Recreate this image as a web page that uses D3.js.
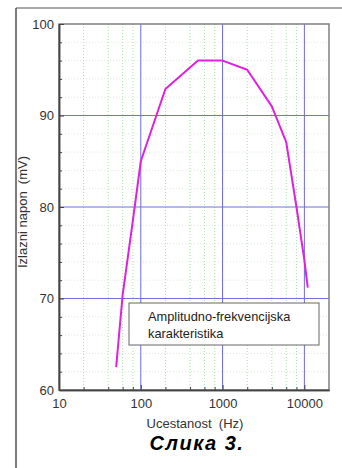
<!DOCTYPE html>
<html><head><meta charset="utf-8">
<script src="https://cdn.jsdelivr.net/npm/d3@7"></script>
<style>html,body{margin:0;padding:0;background:#fff;}svg{display:block;}</style>
</head><body>
<script>
const freq = [50, 60, 80, 100, 200, 500, 1000, 2000, 4000, 6000, 8000, 10000, 11000];
const volt = [62.5, 70.4, 78.5, 85, 92.9, 96, 96, 95, 91, 87.1, 80, 74.2, 71.2];
const xMajor = [10, 100, 1000, 10000];
const xMinor = [20,40,60,80,200,400,600,800,2000,4000,6000,8000];
const yMajor = [60, 70, 80, 90, 100];
const yMinor = [62,64,66,68,72,74,76,78,82,84,86,88,92,94,96,98];
const legendLines = ["Amplitudno-frekvencijska", "karakteristika"];
const xTitle = "Ucestanost  (Hz)";
const yTitle = "Izlazni napon  (mV)";
const caption = "Слика 3.";

const W = 342, H = 468;
const L = 59, R = 329, T = 24, B = 390;
const svg = d3.select("body").append("svg").attr("width", W).attr("height", H);
const x = d3.scaleLog().domain([10, 20000]).range([L, R]);
const y = d3.scaleLinear().domain([60, 100]).range([B, T]);
const font = "'Liberation Sans', Arial, sans-serif";

// outer frame
svg.append("line").attr("x1",16).attr("x2",16).attr("y1",8).attr("y2",H).attr("stroke","#222").attr("stroke-width",1.2);
svg.append("line").attr("x1",16).attr("x2",W).attr("y1",8).attr("y2",8).attr("stroke","#555").attr("stroke-width",1.2);

const g = svg.append("g");
g.selectAll(".hmin").data(yMinor).join("line")
  .attr("x1",L).attr("x2",R).attr("y1",d=>y(d)).attr("y2",d=>y(d))
  .attr("stroke","#dde8dd").attr("stroke-width",1).attr("stroke-dasharray","1,2");
g.selectAll(".vmin").data(xMinor).join("line")
  .attr("x1",d=>x(d)).attr("x2",d=>x(d)).attr("y1",T).attr("y2",B)
  .attr("stroke","#a8e0a8").attr("stroke-width",1).attr("stroke-dasharray","1,2");
g.selectAll(".hmaj").data(yMajor.slice(1,-1)).join("line")
  .attr("x1",L).attr("x2",R).attr("y1",d=>y(d)).attr("y2",d=>y(d))
  .attr("stroke","#7070e0").attr("stroke-width",1);
g.selectAll(".vmaj").data(xMajor.slice(1)).join("line")
  .attr("x1",d=>x(d)).attr("x2",d=>x(d)).attr("y1",T).attr("y2",B)
  .attr("stroke","#6a6ae0").attr("stroke-width",1);

svg.append("rect").attr("x",L).attr("y",T).attr("width",R-L).attr("height",B-T)
  .attr("fill","none").attr("stroke","#808080").attr("stroke-width",1.5);

const xAxis = d3.axisBottom(x).tickValues(xMajor).tickFormat(d3.format("d")).tickSizeInner(-5).tickSizeOuter(0).tickPadding(9);
const gx = svg.append("g").attr("transform",`translate(0,${B})`).call(xAxis);
const gxm = svg.append("g").attr("transform",`translate(0,${B})`).call(d3.axisBottom(x).tickValues(xMinor).tickFormat("").tickSizeInner(-3).tickSizeOuter(0));
const yAxis = d3.axisLeft(y).tickValues(yMajor).tickSizeInner(-5).tickSizeOuter(0).tickPadding(5);
const gy = svg.append("g").attr("transform",`translate(${L},0)`).call(yAxis);
const gym = svg.append("g").attr("transform",`translate(${L},0)`).call(d3.axisLeft(y).tickValues(yMinor).tickFormat("").tickSizeInner(-3).tickSizeOuter(0));
[gx,gxm,gy,gym].forEach(a=>{
  a.select(".domain").attr("stroke","#444").attr("stroke-width",1.5);
  a.selectAll(".tick line").attr("stroke","#444");
  a.selectAll("text").attr("font-family",font).attr("font-size",13).attr("fill","#333");
});

const pts = freq.map((f,i)=>[f, volt[i]]);
svg.append("path").datum(pts)
  .attr("d", d3.line().x(d=>x(d[0])).y(d=>y(d[1])))
  .attr("fill","none").attr("stroke","#e020e0").attr("stroke-width",2).attr("stroke-linejoin","round");

svg.append("rect").attr("x",129).attr("y",303).attr("width",190).attr("height",42)
  .attr("fill","#fff").attr("stroke","#666").attr("stroke-width",1);
svg.append("g").selectAll("text").data(legendLines).join("text")
  .attr("x",148).attr("y",(d,i)=>321+i*17)
  .attr("font-family",font).attr("font-size",12.8).attr("fill","#222").text(d=>d);

svg.append("text").attr("x",195).attr("y",428).attr("text-anchor","middle")
  .attr("font-family",font).attr("font-size",13).attr("fill","#333").style("white-space","pre").text(xTitle);
svg.append("text").attr("transform",`translate(27,${(T+B)/2+5}) rotate(-90)`).attr("text-anchor","middle")
  .attr("font-family",font).attr("font-size",13).attr("fill","#333").style("white-space","pre").text(yTitle);
svg.append("text").attr("x",197).attr("y",450).attr("text-anchor","middle")
  .attr("font-family",font).attr("font-size",20).attr("font-weight","bold").attr("font-style","italic")
  .attr("letter-spacing",1.5).attr("fill","#000").text(caption);
</script>
</body></html>
